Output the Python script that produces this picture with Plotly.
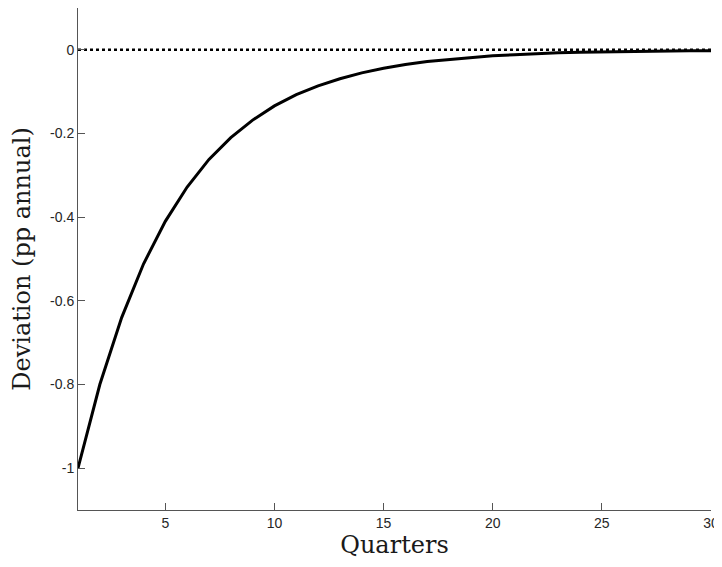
import plotly.graph_objects as go

quarters = list(range(1, 31))
deviation = [-1.0, -0.80, -0.64, -0.512, -0.41, -0.328, -0.262, -0.21, -0.168, -0.134,
             -0.107, -0.086, -0.069, -0.055, -0.044, -0.035, -0.028, -0.023, -0.018, -0.014,
             -0.012, -0.009, -0.007, -0.006, -0.005, -0.004, -0.003, -0.002, -0.002, -0.002]
zero_line = [0.0] * len(quarters)

x_ticks = [5, 10, 15, 20, 25, 30]
y_ticks = [0, -0.2, -0.4, -0.6, -0.8, -1]
y_tick_text = ["0", "-0.2", "-0.4", "-0.6", "-0.8", "-1"]

fig = go.Figure()
fig.add_trace(go.Scatter(x=quarters, y=zero_line, mode="lines",
                         line=dict(color="black", width=2.5, dash="dot"), showlegend=False))
fig.add_trace(go.Scatter(x=quarters, y=deviation, mode="lines",
                         line=dict(color="black", width=3), showlegend=False))

# page body has an 8px margin, so the figure is sized to fit the window
axis_style = dict(showgrid=False, zeroline=False, showline=True, linecolor="#555555", linewidth=1,
                  ticks="inside", ticklen=7, tickcolor="#555555", automargin=False,
                  ticklabeloverflow="allow",
                  tickfont=dict(family="Liberation Sans, Arial", size=14, color="#262626"),
                  mirror=False)
title_font = dict(family="DejaVu Serif", size=24, color="#1a1a1a")

fig.update_layout(
    width=714, height=551,
    plot_bgcolor="white", paper_bgcolor="white",
    margin=dict(l=70, r=11, t=0, b=49),
    xaxis=dict(range=[1, 30], tickvals=x_ticks,
               title=dict(text="Quarters", font=title_font, standoff=4),
               **axis_style),
    yaxis=dict(range=[-1.1, 0.1], tickvals=y_ticks, ticktext=y_tick_text,
               title=dict(text="Deviation (pp annual)", font=title_font, standoff=15),
               **axis_style),
)

fig.write_html("out.html")
